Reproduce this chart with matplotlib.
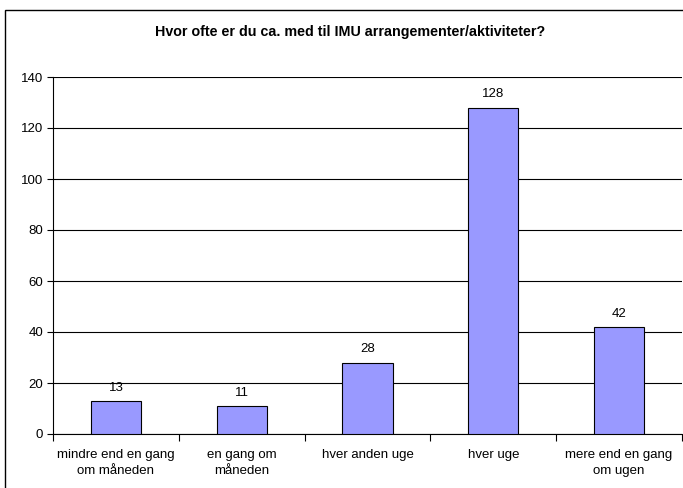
import matplotlib.pyplot as plt
from matplotlib.patches import Rectangle
import numpy as np

# Data
categories = ["mindre end en gang\nom måneden", "en gang om\nmåneden", "hver anden uge",
              "hver uge", "mere end en gang\nom ugen"]
values = [13, 11, 28, 128, 42]
title = "Hvor ofte er du ca. med til IMU arrangementer/aktiviteter?"

plt.rcParams['font.family'] = ['Liberation Sans', 'DejaVu Sans']

fig = plt.figure(figsize=(6.83, 4.88), dpi=100)
ax = fig.add_axes([53 / 683, 54 / 488, 629 / 683, 357 / 488])

# outer chart frame
fig.patches.append(Rectangle((5 / 683, -0.05), 1.0, 1 - 10 / 488 + 0.05,
                             transform=fig.transFigure, fill=False,
                             edgecolor='black', linewidth=1.0))

x = np.arange(len(values))
ax.bar(x, values, width=0.4, color='#9999FF', edgecolor='black', linewidth=0.8, zorder=3)
for xi, v in zip(x, values):
    ax.text(xi, v + 2.8, str(v), ha='center', va='bottom', fontsize=9.5)

ax.set_xlim(-0.5, len(values) - 0.5)
ax.set_ylim(0, 140)
ax.set_yticks(range(0, 141, 20))
ax.yaxis.grid(True, color='black', linewidth=0.8, zorder=0)

ax.set_xticks(np.arange(-0.5, len(values), 1.0))
ax.set_xticklabels([])
ax.set_xticks(x, minor=True)
ax.set_xticklabels(categories, minor=True, fontsize=9.5, linespacing=1.45)
ax.tick_params(axis='x', which='minor', length=0, pad=11)
ax.tick_params(axis='x', which='major', length=5, width=0.8, direction='out')
ax.tick_params(axis='y', length=4, width=0.8, labelsize=9.5, pad=3)

for s in ['top', 'right']:
    ax.spines[s].set_visible(False)
ax.spines['left'].set_linewidth(0.8)
ax.spines['bottom'].set_linewidth(0.8)

fig.text(350 / 683, 1 - 32 / 488, title, ha='center', va='center',
         fontsize=10.3, fontweight='bold')

fig.savefig('out.png', dpi=100)
